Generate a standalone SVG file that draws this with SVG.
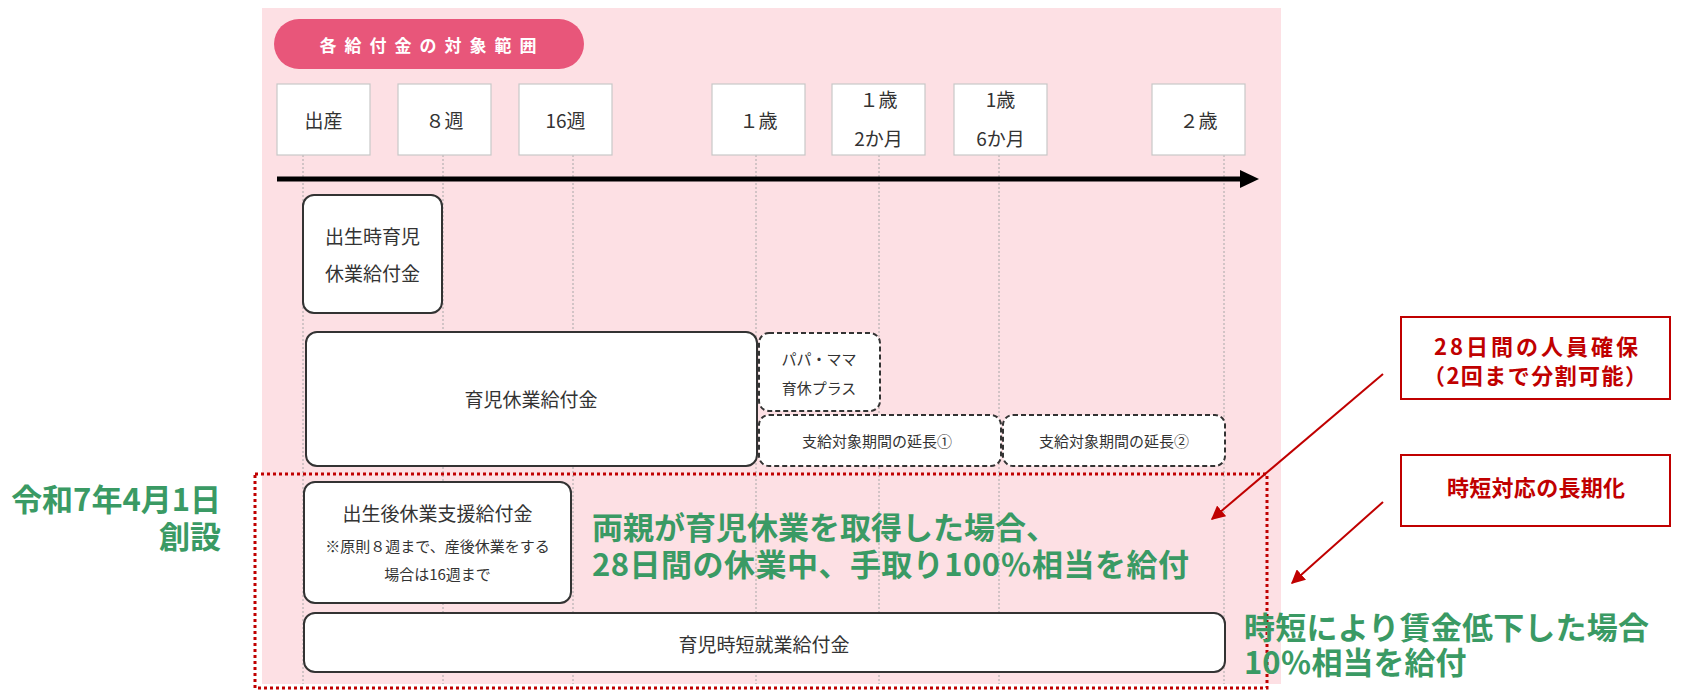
<svg xmlns="http://www.w3.org/2000/svg" width="1681" height="691" viewBox="0 0 1681 691">
<defs>
<style>
text{font-family:"Noto Sans CJK JP","Noto Sans",sans-serif;}
.hb{fill:#fff;stroke:#c8c8c8;stroke-width:1.2;}
.ht{font-size:19px;fill:#333;text-anchor:middle;dominant-baseline:central;}
.nb{fill:#fff;stroke:#333;stroke-width:2;}
.db{fill:#fff;stroke:#333;stroke-width:2;stroke-dasharray:5 3;}
.nt{font-size:19px;fill:#333;text-anchor:middle;dominant-baseline:central;}
.st{font-size:15px;fill:#333;text-anchor:middle;dominant-baseline:central;}
.vl{stroke:#a8a8a8;stroke-width:1;stroke-dasharray:2 2;}
.gt{font-size:31px;font-weight:700;fill:#3a9a64;dominant-baseline:central;}
.rb{fill:#fff;stroke:#c00000;stroke-width:2;}
.rt{font-size:22px;font-weight:700;fill:#c00000;text-anchor:middle;dominant-baseline:central;}
.ra{stroke:#c00000;stroke-width:2;fill:none;}
</style>
<marker id="rah" viewBox="0 0 10 10" refX="9" refY="5" markerWidth="7" markerHeight="7" orient="auto" markerUnits="strokeWidth">
<path d="M0,0 L10,5 L0,10 z" fill="#c00000"/>
</marker>
</defs>
<rect x="0" y="0" width="1681" height="691" fill="#fff"/>
<rect id="panel" x="262" y="8" width="1019" height="676" fill="#fde0e4"/>
<g id="title">
<rect x="274" y="19" width="310" height="50" rx="25" fill="#e8567a"/>
<text x="432" y="44" font-size="17" font-weight="700" fill="#fff" text-anchor="middle" dominant-baseline="central" letter-spacing="8">各給付金の対象範囲</text>
</g>
<g id="gridlines">
<line class="vl" x1="303" y1="155" x2="303" y2="684"/>
<line class="vl" x1="443" y1="155" x2="443" y2="684"/>
<line class="vl" x1="573" y1="155" x2="573" y2="684"/>
<line class="vl" x1="756" y1="155" x2="756" y2="684"/>
<line class="vl" x1="879" y1="155" x2="879" y2="684"/>
<line class="vl" x1="999" y1="155" x2="999" y2="684"/>
<line class="vl" x1="1224" y1="155" x2="1224" y2="684"/>
</g>
<g id="h-birth"><rect class="hb" x="277" y="84" width="93" height="71"/><text class="ht" x="323.5" y="119.5">出産</text></g>
<g id="h-8w"><rect class="hb" x="398" y="84" width="93" height="71"/><text class="ht" x="444.5" y="119.5">８週</text></g>
<g id="h-16w"><rect class="hb" x="519" y="84" width="93" height="71"/><text class="ht" x="565.5" y="119.5">16週</text></g>
<g id="h-1y"><rect class="hb" x="712" y="84" width="93" height="71"/><text class="ht" x="758.5" y="119.5">１歳</text></g>
<g id="h-1y2m"><rect class="hb" x="832" y="84" width="93" height="71"/><text class="ht" x="878.5" y="98">１歳</text><text class="ht" x="878.5" y="137">2か月</text></g>
<g id="h-1y6m"><rect class="hb" x="954" y="84" width="93" height="71"/><text class="ht" x="1000.5" y="98">1歳</text><text class="ht" x="1000.5" y="137">6か月</text></g>
<g id="h-2y"><rect class="hb" x="1152" y="84" width="93" height="71"/><text class="ht" x="1198.5" y="119.5">２歳</text></g>
<g id="timeline">
<line x1="277" y1="179" x2="1244" y2="179" stroke="#000" stroke-width="5"/>
<polygon points="1240,170 1259,179 1240,188" fill="#000"/>
</g>
<g id="n-birth-leave"><rect class="nb" x="303" y="195" width="139" height="118" rx="11"/><text class="nt" x="372.5" y="235">出生時育児</text><text class="nt" x="372.5" y="272">休業給付金</text></g>
<g id="n-childcare"><rect class="nb" x="306" y="332" width="451" height="134" rx="11"/><text class="nt" x="531" y="398">育児休業給付金</text></g>
<g id="n-papamama"><rect class="db" x="759" y="333" width="121" height="78" rx="10"/><text class="st" x="819" y="358">パパ・ママ</text><text class="st" x="819" y="387">育休プラス</text></g>
<g id="n-ext1"><rect class="db" x="759" y="415" width="242" height="51" rx="10"/><text class="st" x="877" y="440">支給対象期間の延長①</text></g>
<g id="n-ext2"><rect class="db" x="1003" y="415" width="222" height="51" rx="10"/><text class="st" x="1114" y="440">支給対象期間の延長②</text></g>
<g id="n-postbirth"><rect class="nb" x="304" y="482" width="267" height="121" rx="11"/><text class="nt" x="437.5" y="512">出生後休業支援給付金</text><text class="st" x="437.5" y="545" font-size="14.5">※原則８週まで、産後休業をする</text><text class="st" x="437.5" y="573" font-size="14.5">場合は16週まで</text></g>
<g id="n-shorttime"><rect class="nb" x="304" y="613" width="921" height="59" rx="11"/><text class="nt" x="764" y="643">育児時短就業給付金</text></g>
<g id="highlight">
<rect x="255" y="474" width="1012" height="214" fill="none" stroke="#c00000" stroke-width="3" stroke-dasharray="3 3"/>
</g>
<g id="label-date">
<text class="gt" x="221" y="497" text-anchor="end">令和7年4月1日</text>
<text class="gt" x="221" y="534" text-anchor="end">創設</text>
</g>
<g id="label-both">
<text class="gt" x="592" y="525">両親が育児休業を取得した場合、</text>
<text class="gt" x="592" y="562" textLength="597" lengthAdjust="spacing">28日間の休業中、手取り100％相当を給付</text>
</g>
<g id="label-short">
<text class="gt" x="1244" y="625" textLength="405" lengthAdjust="spacing">時短により賃金低下した場合</text>
<text class="gt" x="1244" y="660">10％相当を給付</text>
</g>
<g id="r-box1"><rect class="rb" x="1401" y="317" width="269" height="82"/><text class="rt" x="1536" y="345" textLength="204" lengthAdjust="spacing">28日間の人員確保</text><text class="rt" x="1535" y="374" textLength="224" lengthAdjust="spacing">（2回まで分割可能）</text></g>
<g id="r-box2"><rect class="rb" x="1401" y="455" width="269" height="71"/><text class="rt" x="1536" y="486" textLength="178" lengthAdjust="spacing">時短対応の長期化</text></g>
<g id="connectors">
<line class="ra" x1="1383" y1="374" x2="1212" y2="519" marker-end="url(#rah)"/>
<line class="ra" x1="1383" y1="502" x2="1292" y2="583" marker-end="url(#rah)"/>
</g>
</svg>
